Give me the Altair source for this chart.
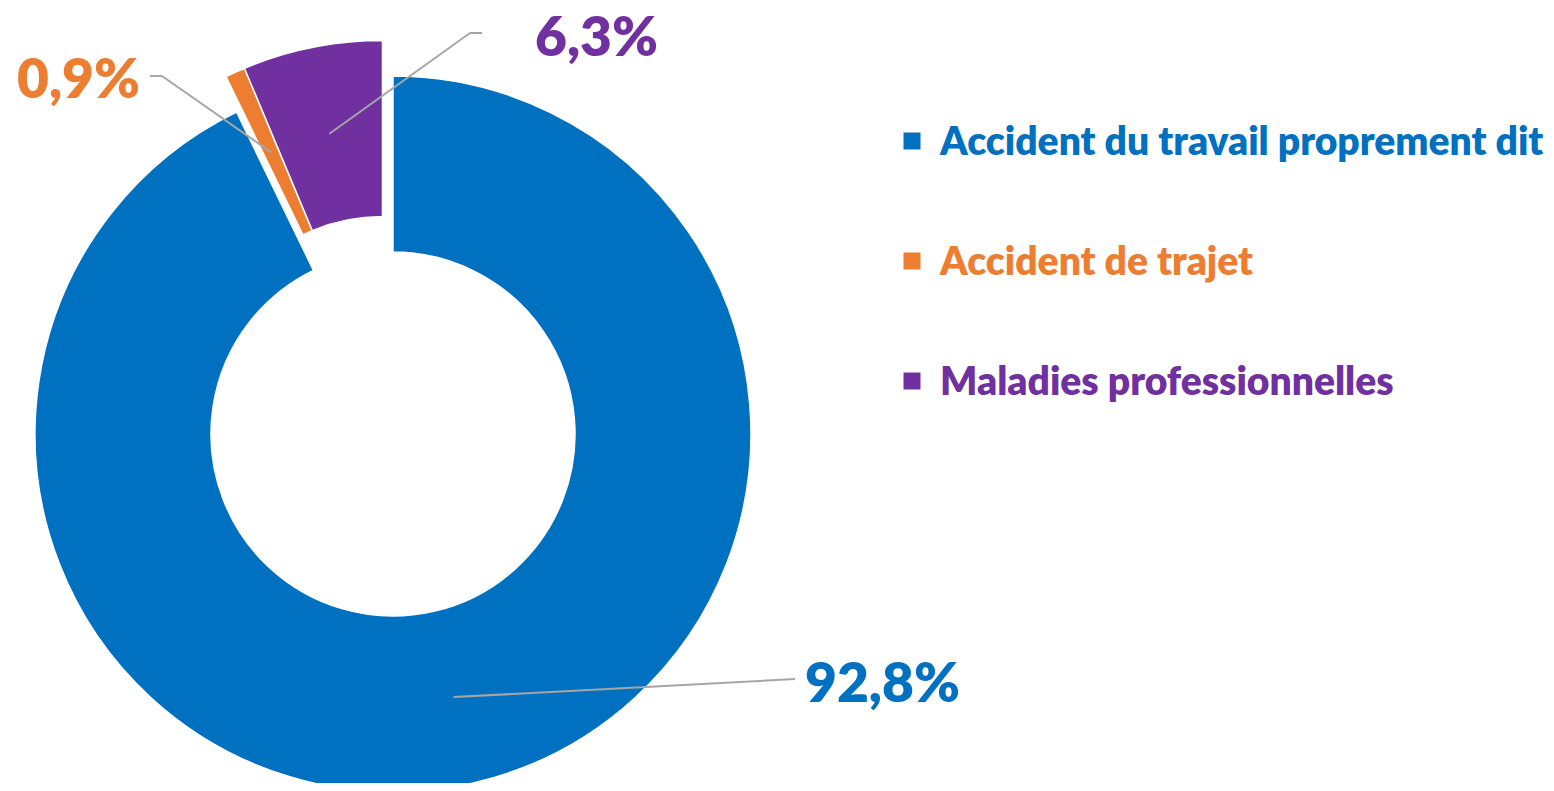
import altair as alt
import pandas as pd

# ---------------- data ----------------
categories = ["Accident du travail proprement dit", "Accident de trajet", "Maladies professionnelles"]
values = [92.8, 0.9, 6.3]

# ---------------- styles / layout (chart pixel coords) ----------------
colors = ["#0070C0", "#ED7D31", "#7030A0"]
FONT = "Lato"
CX, CY = 385, 426
R_OUT, R_IN, R_MID = 358, 182, 270
EXPLODE = [0, 37, 37]
EXPLODE_DIR_DEG = 343.5
LABEL_X = [797, 132, 527]
LABEL_Y = [694, 90, 48]
LABEL_ALIGN = ["left", "right", "left"]
ELBOW_X = [787, 154, 462]
ELBOW_Y = [671, 68, 25]
STUB_X = [787, 142, 474]
LEG_SQ_X, LEG_TXT_X, LEG_Y0, LEG_STEP = 904, 932, 133, 120
W, H = 1538, 775

df = pd.DataFrame({
    "cat": categories,
    "value": values,
    "order": list(range(len(categories))),
    "explode": EXPLODE,
    "lx": LABEL_X, "ly": LABEL_Y, "align": LABEL_ALIGN,
    "ex": ELBOW_X, "ey": ELBOW_Y, "sx": STUB_X,
})

color = alt.Color("cat:N", scale=alt.Scale(domain=categories, range=colors), legend=None)

base = (
    alt.Chart(df)
    .transform_window(cum="sum(value)", sort=[alt.SortField("order")], frame=[None, 0])
    .transform_joinaggregate(total="sum(value)")
    .transform_calculate(
        t1="datum.cum / datum.total * 2 * PI",
        t0="(datum.cum - datum.value) / datum.total * 2 * PI",
        mid="(datum.t0 + datum.t1) / 2",
        cx=f"{CX} + datum.explode * sin({EXPLODE_DIR_DEG} * PI / 180)",
        cy=f"{CY} - datum.explode * cos({EXPLODE_DIR_DEG} * PI / 180)",
        ix=f"datum.cx + {R_MID} * sin(datum.mid)",
        iy=f"datum.cy - {R_MID} * cos(datum.mid)",
        label="replace(format(datum.value, '.1f'), '.', ',') + '%'",
        legy=f"{LEG_Y0} + datum.order * {LEG_STEP}",
    )
)

arcs = base.mark_arc(stroke="white", strokeWidth=1.5).encode(
    x=alt.X("cx:Q", scale=None),
    y=alt.Y("cy:Q", scale=None),
    theta=alt.Theta("t0:Q", scale=None),
    theta2="t1:Q",
    radius=alt.value(R_OUT),
    radius2=alt.value(R_IN),
    color=color,
)

leader = base.mark_rule(color="#A6A6A6", strokeWidth=2).encode(
    x=alt.X("ix:Q", scale=None), y=alt.Y("iy:Q", scale=None),
    x2="ex:Q", y2="ey:Q",
)
stub = base.mark_rule(color="#A6A6A6", strokeWidth=2).encode(
    x=alt.X("ex:Q", scale=None), y=alt.Y("ey:Q", scale=None),
    x2="sx:Q", y2="ey:Q",
)

def labels(al):
    return base.transform_filter(f"datum.align == '{al}'").mark_text(
        font=FONT, fontWeight=800, fontSize=55, align=al, baseline="alphabetic"
    ).encode(
        x=alt.X("lx:Q", scale=None), y=alt.Y("ly:Q", scale=None),
        text="label:N", color=color,
    )

leg_sq = base.mark_square(size=289, opacity=1).encode(
    x=alt.value(LEG_SQ_X), y=alt.Y("legy:Q", scale=None), color=color,
)
leg_txt = base.mark_text(
    font=FONT, fontWeight=800, fontSize=39, align="left", baseline="middle", dy=2
).encode(
    x=alt.value(LEG_TXT_X), y=alt.Y("legy:Q", scale=None), text="cat:N", color=color,
)

chart = alt.layer(arcs, leader, stub, labels("left"), labels("right"), leg_sq, leg_txt).properties(
    width=W, height=H, autosize="none", padding=0
).configure_view(stroke=None)

chart.save("out.html", embed_options={"renderer": "svg", "actions": False})
